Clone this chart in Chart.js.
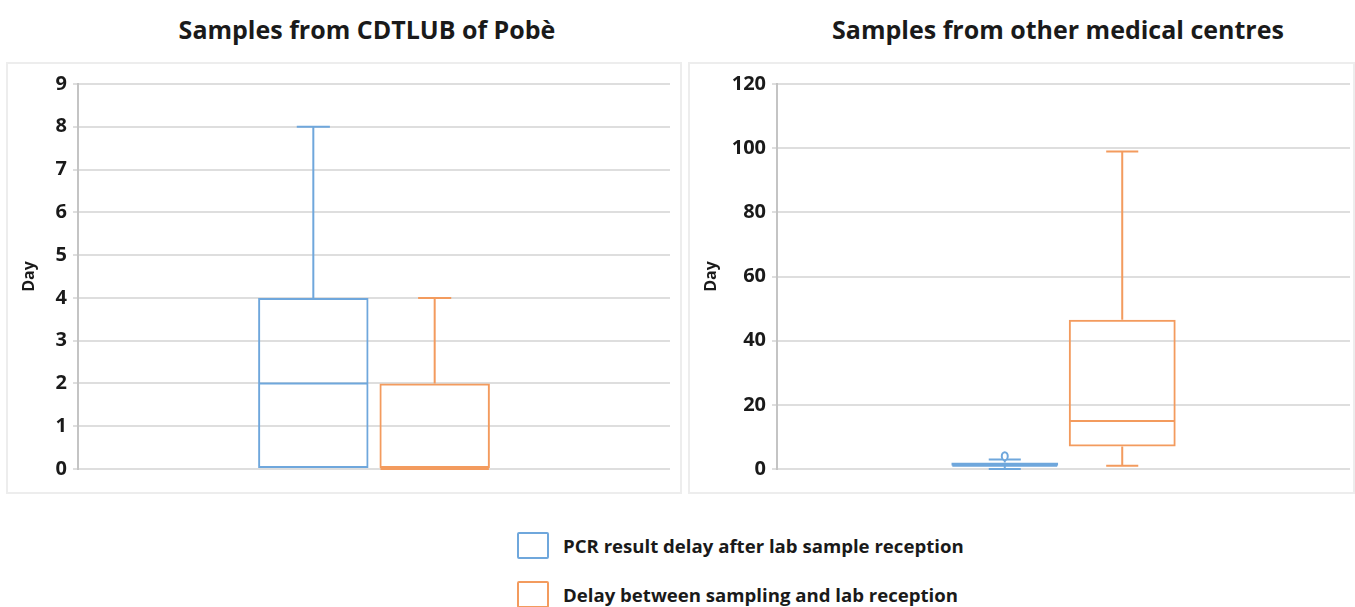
<!DOCTYPE html>
<html>
<head>
<meta charset="utf-8">
<script src="https://cdn.jsdelivr.net/npm/chart.js@4.4.1/dist/chart.umd.min.js"></script>
<style>
  body { margin: 0; width: 1355px; height: 607px; overflow: hidden; position: relative; background: #fff;
         font-family: 'Open Sans', sans-serif; color: #1a1a1a; }
  .title { position: absolute; top: 12px; font-weight: bold; font-size: 25px; text-align: center; white-space: nowrap; }
  .panel { position: absolute; top: 62px; height: 432px; box-sizing: border-box; border: 2px solid #ededed; }
  .panel canvas { position: absolute; left: 0; top: 0; }
  .legend { position: absolute; left: 517px; font-weight: bold; font-size: 18.6px; white-space: nowrap; }
  .legend span.box { display: inline-block; width: 28px; height: 23px; border: 2px solid; border-radius: 2px;
                     vertical-align: middle; margin-right: 14px; }
  .legend span.txt { vertical-align: middle; }
</style>
</head>
<body>

<div class="title" id="title0" style="left:117px;width:500px"></div>
<div class="title" id="title1" style="left:808px;width:500px"></div>

<div class="panel" style="left:6px;width:676px"><canvas id="pobeChart"></canvas></div>
<div class="panel" style="left:688px;width:667px"><canvas id="otherChart"></canvas></div>

<div class="legend" id="legend0" style="top:530px"></div>
<div class="legend" id="legend1" style="top:579px"></div>

<script>
const seriesLabels = ['PCR result delay after lab sample reception', 'Delay between sampling and lab reception'];
const seriesColors = ['#6fa7dc', '#f39b5e'];
const panelTitles = ['Samples from CDTLUB of Pobè', 'Samples from other medical centres'];

// box plot stats, one entry per series (PCR delay, sampling delay)
const pobeMin = [0, 0];
const pobeQ1 = [0, 0];
const pobeMedian = [2, 0];
const pobeQ3 = [4, 2];
const pobeMax = [8, 4];
const pobeOutliers = [[], []];
const pobeYTicks = [0, 9, 1]; // min, max, step

const otherMin = [0, 1];
const otherQ1 = [1, 7];
const otherMedian = [1, 15];
const otherQ3 = [2, 46.5];
const otherMax = [3, 99];
const otherOutliers = [[4], []];
const otherYTicks = [0, 120, 20];

document.getElementById('title0').textContent = panelTitles[0];
document.getElementById('title1').textContent = panelTitles[1];

seriesLabels.forEach((label, i) => {
    const el = document.getElementById('legend' + i);
    el.innerHTML = `<span class="box" style="border-color:${seriesColors[i]}"></span><span class="txt"></span>`;
    el.querySelector('.txt').textContent = label;
});

const whiskerPlugin = {
    id: 'whiskers',
    afterDatasetsDraw(chart) {
        const ctx = chart.ctx;
        const y = chart.scales.y;
        chart.data.datasets.forEach((ds, i) => {
            const bar = chart.getDatasetMeta(i).data[0];
            const s = ds.stats;
            const x = bar.x;
            const half = bar.width / 2 - 1;
            const cap = bar.width * 0.15;
            const yMed = y.getPixelForValue(s.median);
            const yQ1 = y.getPixelForValue(s.q1);
            const yQ3 = y.getPixelForValue(s.q3);
            const yMin = y.getPixelForValue(s.min);
            const yMax = y.getPixelForValue(s.max);

            ctx.save();
            ctx.strokeStyle = ds.borderColor;
            ctx.lineWidth = 2;
            ctx.beginPath();
            ctx.moveTo(x - half, yMed);
            ctx.lineTo(x + half, yMed);
            if (s.max > s.q3) {
                ctx.moveTo(x, yQ3);
                ctx.lineTo(x, yMax);
                ctx.moveTo(x - cap, yMax);
                ctx.lineTo(x + cap, yMax);
            }
            if (s.min < s.q1) {
                ctx.moveTo(x, yQ1);
                ctx.lineTo(x, yMin);
                ctx.moveTo(x - cap, yMin);
                ctx.lineTo(x + cap, yMin);
            }
            ctx.stroke();

            s.outliers.forEach(v => {
                ctx.beginPath();
                ctx.ellipse(x, y.getPixelForValue(v), 3, 4, 0, 0, Math.PI * 2);
                ctx.fillStyle = '#fff';
                ctx.fill();
                ctx.stroke();
            });
            ctx.restore();
        });
    }
};

function makePanel(canvasId, mins, q1s, medians, q3s, maxs, outliers, yTicks, axisWidth, padRight) {
    const canvas = document.getElementById(canvasId);
    const panel = canvas.parentElement;
    canvas.width = panel.clientWidth + 4;
    canvas.height = 432;
    canvas.style.left = '-2px';
    canvas.style.top = '-2px';

    const datasets = seriesLabels.map((label, i) => ({
        label: label,
        data: [[q1s[i], q3s[i]]],
        borderColor: seriesColors[i],
        backgroundColor: 'rgba(255,255,255,0)',
        borderWidth: 2,
        borderSkipped: false,
        categoryPercentage: 0.41,
        barPercentage: 0.91,
        stats: { min: mins[i], q1: q1s[i], median: medians[i], q3: q3s[i], max: maxs[i], outliers: outliers[i] }
    }));

    new Chart(canvas.getContext('2d'), {
        type: 'bar',
        data: { labels: [''], datasets: datasets },
        options: {
            responsive: false,
            animation: false,
            events: [],
            layout: { padding: { top: 22, bottom: 25, left: 0, right: padRight } },
            plugins: { legend: { display: false }, tooltip: { enabled: false } },
            scales: {
                x: { display: false },
                y: {
                    min: yTicks[0],
                    max: yTicks[1],
                    afterFit: scale => { scale.width = axisWidth; },
                    ticks: {
                        stepSize: yTicks[2],
                        color: '#1a1a1a',
                        padding: 6,
                        font: { family: "'Open Sans', sans-serif", size: 20, weight: 'bold' }
                    },
                    grid: { color: '#dedede', lineWidth: 2, tickLength: 5 },
                    border: { color: '#c4c4c4', width: 2 },
                    title: {
                        display: true,
                        text: 'Day',
                        color: '#1a1a1a',
                        padding: { top: 14, bottom: 0 },
                        font: { family: "'Open Sans', sans-serif", size: 16, weight: 'bold' }
                    }
                }
            }
        },
        plugins: [whiskerPlugin]
    });
}

makePanel('pobeChart', pobeMin, pobeQ1, pobeMedian, pobeQ3, pobeMax, pobeOutliers, pobeYTicks, 72, 12);
makePanel('otherChart', otherMin, otherQ1, otherMedian, otherQ3, otherMax, otherOutliers, otherYTicks, 89, 5);
</script>
</body>
</html>
